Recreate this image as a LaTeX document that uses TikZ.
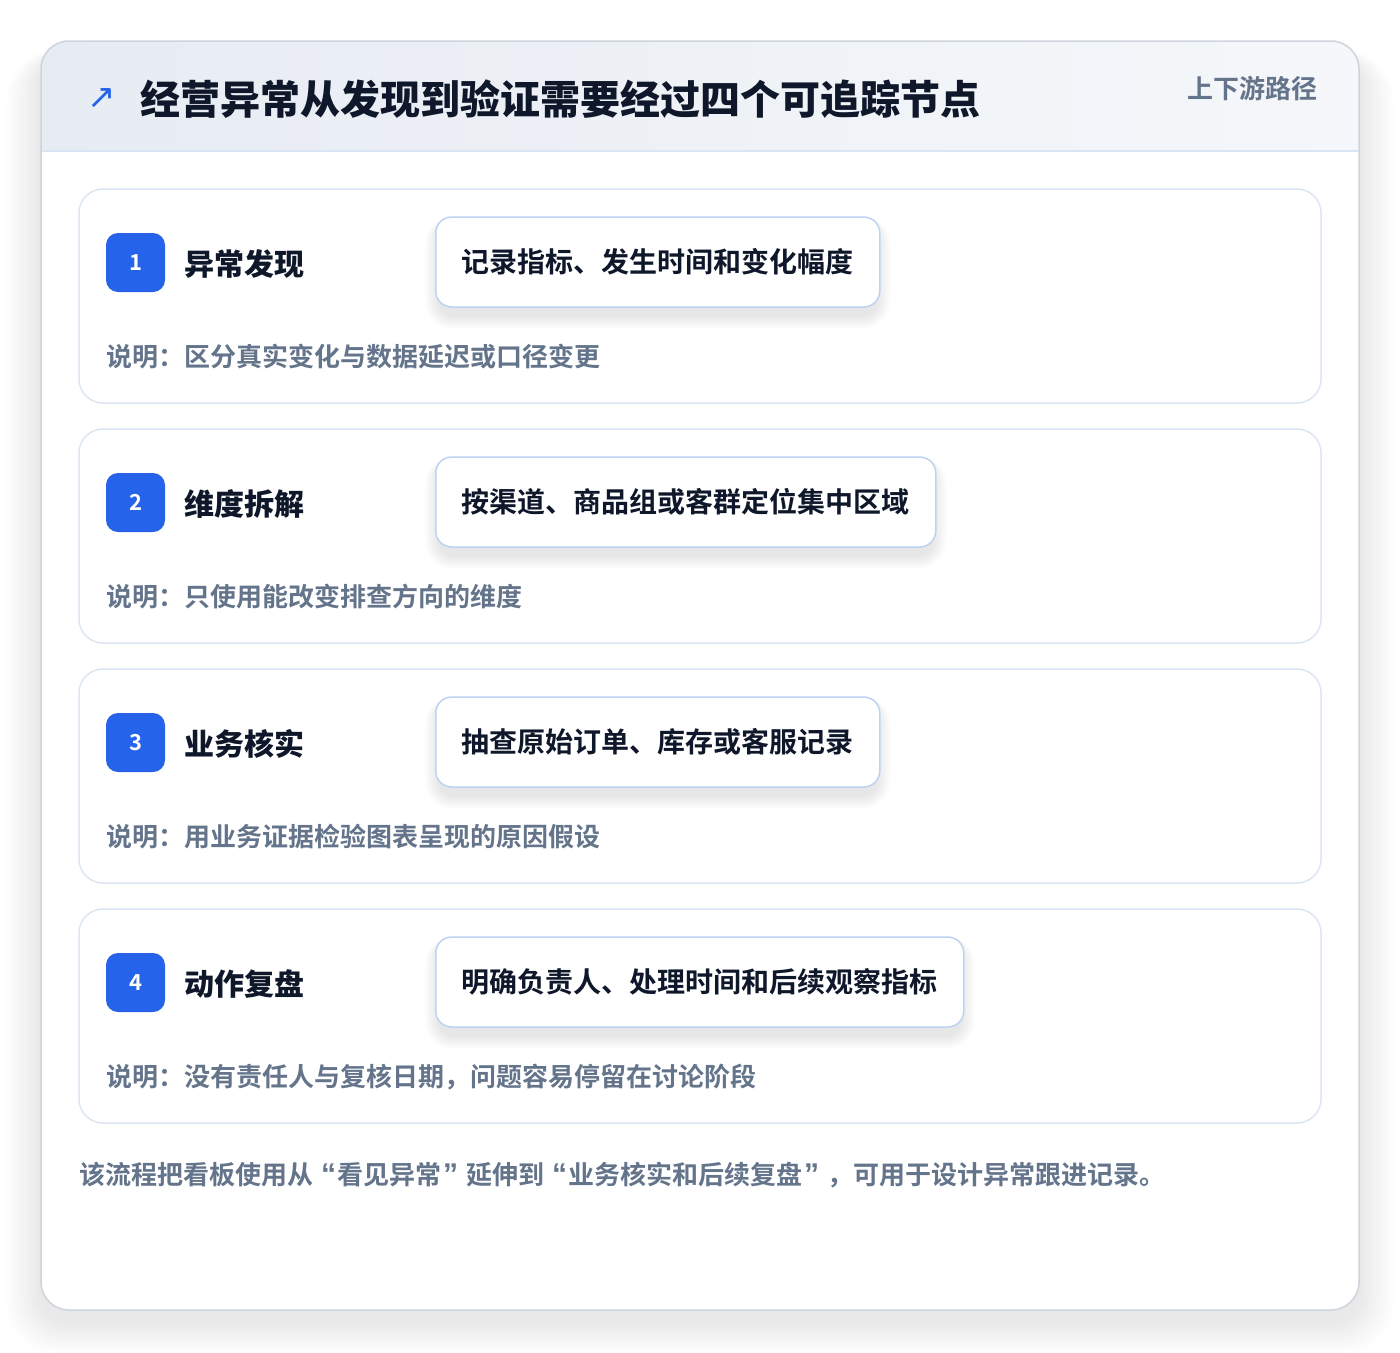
\documentclass[tikz,border=0pt]{standalone}
\usepackage{fontspec}
\setmainfont{Noto Sans CJK SC}[BoldFont={Noto Sans CJK SC Bold}]
\newfontfamily\heavyfont{Noto Sans CJK SC Black}
\newfontfamily\symfont{DejaVu Sans}
\newfontfamily\quotefont{Liberation Sans}[BoldFont={Liberation Sans Bold}]
\newcommand\myopenq{\kern8pt{\quotefont\bfseries\fontsize{30}{30}\selectfont “}\kern1.5pt}
\newcommand\mycloseq{\kern1.5pt{\quotefont\bfseries\fontsize{30}{30}\selectfont ”}\kern8pt}
\definecolor{brandblue}{HTML}{2563EB}
\definecolor{inkdark}{HTML}{0F172A}
\definecolor{inkgray}{HTML}{64748B}
\definecolor{cardline}{HTML}{DCE6F4}
\definecolor{boxline}{HTML}{BED3F1}
\definecolor{outerline}{HTML}{CDD4DE}
\definecolor{headl}{HTML}{E7ECF3}
\definecolor{headr}{HTML}{F5F7FA}
\definecolor{headline}{HTML}{DAE5F3}
\pgfdeclarelayer{cardlayer}
\pgfdeclarelayer{shadowlayer}
\pgfsetlayers{cardlayer,shadowlayer,main}
\tikzset{
  stepcard/.style={draw=cardline, line width=1.5pt, fill=white, rounded corners=24pt,
    minimum width=1242pt, minimum height=214pt, inner sep=0pt},
  badge/.style={fill=brandblue, rounded corners=12pt, minimum width=59pt, minimum height=59pt,
    inner sep=0pt, text=white, font=\fontsize{22}{22}\selectfont\bfseries},
  steptitle/.style={anchor=west, inner sep=0pt, text=inkdark, font=\heavyfont\fontsize{30}{30}\selectfont},
  actionbox/.style={anchor=west, draw=boxline, line width=1.5pt, fill=white, rounded corners=16pt,
    inner xsep=26pt, inner ysep=0pt, minimum height=90pt, text=inkdark,
    font=\fontsize{28}{28}\selectfont\bfseries},
  desc/.style={anchor=west, inner sep=0pt, text=inkgray, font=\fontsize{26}{26}\selectfont\bfseries},
  softshade/.style={fill=black, fill opacity=#1},
}
\newcommand\boxshadow[1]{%
  \begin{pgfonlayer}{shadowlayer}
  \foreach \i in {1,...,12}{
    \fill[softshade=0.0065, rounded corners=16pt+\i pt]
      ([xshift=-1.2*\i pt+4pt, yshift=-8pt-1.1*\i pt]#1.south west) rectangle
      ([xshift=1.2*\i pt-4pt, yshift=-4pt+0.3*\i pt]#1.north east);
  }
  \end{pgfonlayer}}
\begin{document}
\begin{tikzpicture}[x=1pt,y=-1pt]
\useasboundingbox (0,0) rectangle (1400,1352);
\begin{pgfonlayer}{cardlayer}
\fill[white] (0,0) rectangle (1400,1352);
% outer card shadow
\foreach \i in {1,...,22}{
  \fill[softshade=0.0055, rounded corners=28pt+\i pt]
    (41-1.6*\i, 41+16-0.3*\i) rectangle (1359+1.6*\i, 1310+12+1.4*\i);
}
\fill[white, rounded corners=28pt] (41,41) rectangle (1359,1310);
\begin{scope}
  \clip[rounded corners=28pt] (41,41) rectangle (1359,1310);
  \shade[left color=headl, right color=headr] (41,41) rectangle (1359,151);
  \draw[headline, line width=1.5pt] (41,151) -- (1359,151);
\end{scope}
\draw[outerline, line width=1.5pt, rounded corners=28pt] (41,41) rectangle (1359,1310);
\node (card1) [stepcard] at (700,296) {};
\node (card2) [stepcard] at (700,536) {};
\node (card3) [stepcard] at (700,776) {};
\node (card4) [stepcard] at (700,1016) {};
\end{pgfonlayer}
% header
\node (icon) [inner sep=0pt, text=brandblue, font=\symfont\fontsize{34}{34}\selectfont] at (102,99) {↗};
\node (title) [anchor=west, inner sep=0pt, text=inkdark, font=\heavyfont\fontsize{40}{40}\selectfont]
  at (140,99) {经营异常从发现到验证需要经过四个可追踪节点};
\node (tag) [anchor=east, inner sep=0pt, text=inkgray, font=\fontsize{26}{26}\selectfont\bfseries]
  at (1318,89) {上下游路径};
% step 1
\node (badge1) [badge] at (135.5,262.5) {1};
\node (title1) [steptitle] at (184,264) {异常发现};
\node (box1) [actionbox] at (435,262) {记录指标、发生时间和变化幅度};
\boxshadow{box1}
\node (desc1) [desc] at (106,357) {说明：区分真实变化与数据延迟或口径变更};
% step 2
\node (badge2) [badge] at (135.5,502.5) {2};
\node (title2) [steptitle] at (184,504) {维度拆解};
\node (box2) [actionbox] at (435,502) {按渠道、商品组或客群定位集中区域};
\boxshadow{box2}
\node (desc2) [desc] at (106,597) {说明：只使用能改变排查方向的维度};
% step 3
\node (badge3) [badge] at (135.5,742.5) {3};
\node (title3) [steptitle] at (184,744) {业务核实};
\node (box3) [actionbox] at (435,742) {抽查原始订单、库存或客服记录};
\boxshadow{box3}
\node (desc3) [desc] at (106,837) {说明：用业务证据检验图表呈现的原因假设};
% step 4
\node (badge4) [badge] at (135.5,982.5) {4};
\node (title4) [steptitle] at (184,984) {动作复盘};
\node (box4) [actionbox] at (435,982) {明确负责人、处理时间和后续观察指标};
\boxshadow{box4}
\node (desc4) [desc] at (106,1077) {说明：没有责任人与复核日期，问题容易停留在讨论阶段};
% footer
\node (footer) [desc] at (79,1175) {该流程把看板使用从\myopenq 看见异常\mycloseq 延伸到\myopenq 业务核实和后续复盘\mycloseq ，可用于设计异常跟进记录。};
\end{tikzpicture}
\end{document}
